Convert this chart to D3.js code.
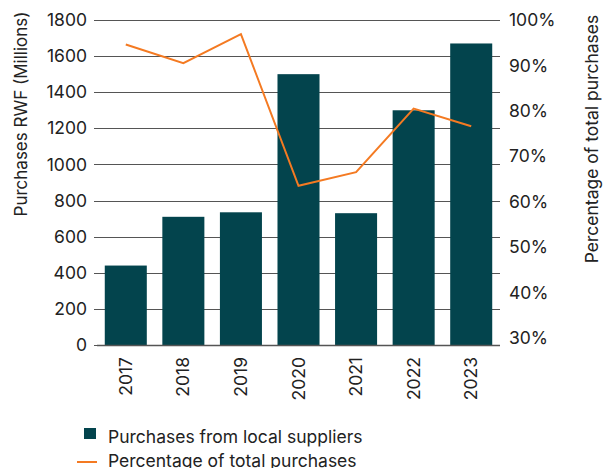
<!DOCTYPE html>
<html>
<head>
<meta charset="utf-8">
<script src="https://cdn.jsdelivr.net/npm/d3@7"></script>
<style>
  html, body { margin: 0; padding: 0; background: #fff; }
  svg { display: block; font-family: Inter, "Noto Sans", sans-serif; }
</style>
</head>
<body>
<svg id="chart" width="603" height="468"></svg>
<script>
// Local purchases by year (RWF millions) and share of total purchases (%)
const years = ["2017", "2018", "2019", "2020", "2021", "2022", "2023"];
const purchases = [440, 710, 735, 1500, 730, 1300, 1670];
const sharePct = [94.6, 90.5, 96.9, 63.5, 66.5, 80.5, 76.6];
const leftTicks = [0, 200, 400, 600, 800, 1000, 1200, 1400, 1600, 1800];
const rightTicks = [30, 40, 50, 60, 70, 80, 90, 100];
const legendLabels = ["Purchases from local suppliers", "Percentage of total purchases"];

const barColor = "#03444D";
const lineColor = "#F47A22";
const textColor = "#222";

const svg = d3.select("#chart");
const plot = { left: 97, right: 500, top: 20, bottom: 345 };

const x = d3.scaleBand().domain(years).range([plot.left, plot.right]).paddingInner(0.27).paddingOuter(0.135);
const yL = d3.scaleLinear().domain([0, 1800]).range([plot.bottom, plot.top]);
const yR = d3.scaleLinear().domain([30, 100]).range([338, plot.top]);

// Horizontal gridlines at the left-axis ticks
svg.append("g")
  .selectAll("line")
  .data(leftTicks)
  .join("line")
  .attr("x1", plot.left - 3)
  .attr("x2", plot.right)
  .attr("y1", d => Math.round(yL(d)) + 0.5)
  .attr("y2", d => Math.round(yL(d)) + 0.5)
  .attr("stroke", "#555")
  .attr("stroke-width", 1);

// Left axis labels
const leftAxis = d3.axisLeft(yL).tickValues(leftTicks).tickSize(0).tickPadding(7).tickFormat(d3.format("d"));
svg.append("g")
  .attr("transform", `translate(${plot.left - 3},0)`)
  .call(leftAxis)
  .call(g => g.select(".domain").remove())
  .call(g => g.selectAll("text").attr("font-size", 17.5).attr("fill", textColor).attr("font-family", "Inter, sans-serif"));

// Right axis labels
const rightAxis = d3.axisRight(yR).tickValues(rightTicks).tickSize(0).tickPadding(9).tickFormat(d => d + "%");
svg.append("g")
  .attr("transform", `translate(${plot.right},0)`)
  .call(rightAxis)
  .call(g => g.select(".domain").remove())
  .call(g => g.selectAll("text").attr("font-size", 17.5).attr("fill", textColor).attr("font-family", "Inter, sans-serif"));

// Bars
svg.append("g")
  .selectAll("rect")
  .data(years.map((yr, i) => ({ yr, v: purchases[i] })))
  .join("rect")
  .attr("x", d => x(d.yr))
  .attr("width", x.bandwidth())
  .attr("y", d => yL(d.v))
  .attr("height", d => yL(0) - yL(d.v))
  .attr("fill", barColor);

// Baseline
svg.append("line")
  .attr("x1", plot.left).attr("x2", plot.right)
  .attr("y1", plot.bottom + 0.5).attr("y2", plot.bottom + 0.5)
  .attr("stroke", "#555").attr("stroke-width", 1.5);

// Share line
const line = d3.line()
  .x((d, i) => x(years[i]) + x.bandwidth() / 2)
  .y(d => yR(d));
svg.append("path")
  .datum(sharePct)
  .attr("d", line)
  .attr("fill", "none")
  .attr("stroke", lineColor)
  .attr("stroke-width", 2);

// Year labels, rotated
const bottomAxis = d3.axisBottom(x).tickSize(0);
svg.append("g")
  .attr("transform", `translate(0,${plot.bottom})`)
  .call(bottomAxis)
  .call(g => g.select(".domain").remove())
  .call(g => g.selectAll("text")
    .attr("font-size", 17.5)
    .attr("fill", textColor)
    .attr("font-family", "Inter, sans-serif")
    .attr("transform", "rotate(-90)")
    .attr("text-anchor", "end")
    .attr("dy", "0.35em")
    .attr("x", -12)
    .attr("y", 0));

// Axis titles
svg.append("text")
  .attr("transform", `translate(27,114) rotate(-90)`)
  .attr("text-anchor", "middle")
  .attr("font-size", 17)
  .attr("fill", textColor)
  .text("Purchases RWF (Millions)");

svg.append("text")
  .attr("transform", `translate(598,139) rotate(-90)`)
  .attr("text-anchor", "middle")
  .attr("font-size", 17.5)
  .attr("fill", textColor)
  .text("Percentage of total purchases");

// Legend
const legend = svg.append("g");
legend.append("rect")
  .attr("x", 84).attr("y", 428).attr("width", 12).attr("height", 11)
  .attr("fill", barColor);
legend.append("text")
  .attr("x", 108).attr("y", 443)
  .attr("font-size", 17.5).attr("fill", textColor)
  .text(legendLabels[0]);
legend.append("line")
  .attr("x1", 77).attr("x2", 97).attr("y1", 462).attr("y2", 462)
  .attr("stroke", lineColor).attr("stroke-width", 2);
legend.append("text")
  .attr("x", 108).attr("y", 467)
  .attr("font-size", 17.5).attr("fill", textColor)
  .text(legendLabels[1]);
</script>
</body>
</html>
